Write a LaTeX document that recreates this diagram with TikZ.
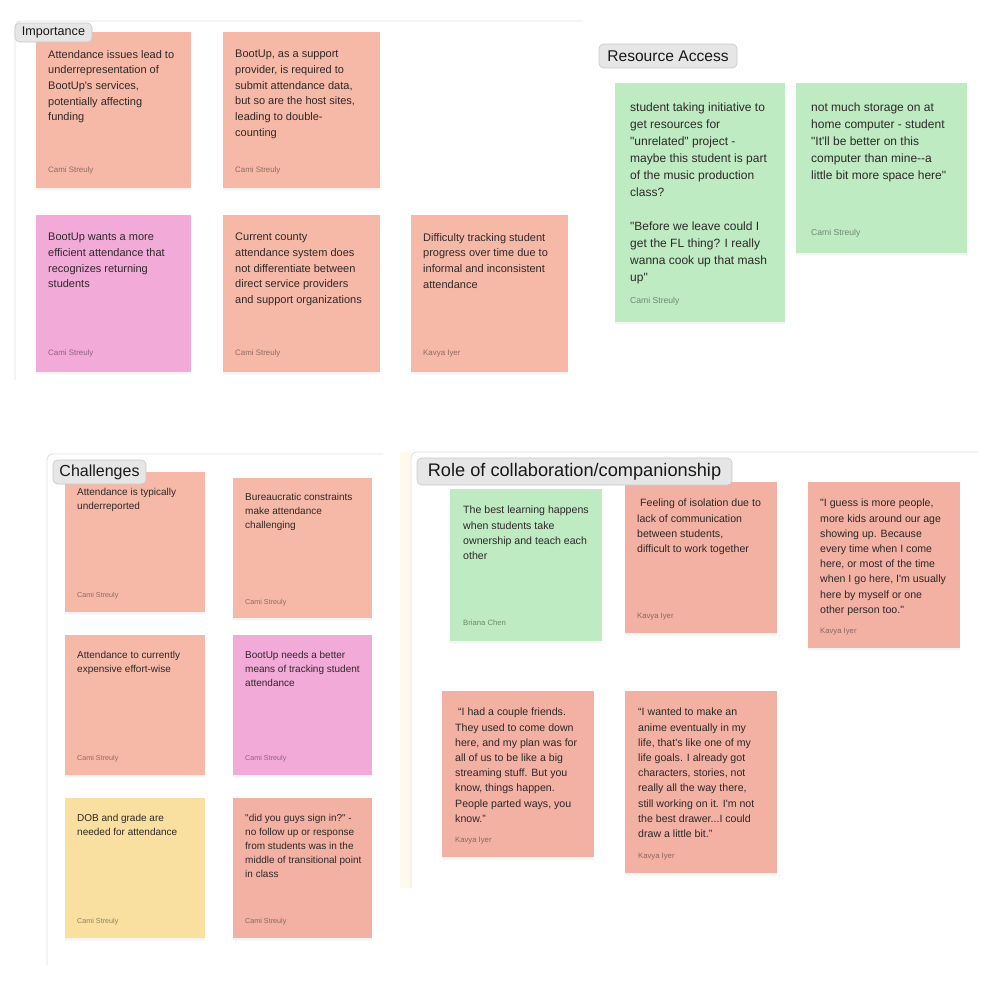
\documentclass[tikz,border=0pt]{standalone}
\usepackage{fontspec}
\newfontfamily\notefont{Liberation Sans}
\usetikzlibrary{shadows}

\definecolor{salmon}{HTML}{F6B9A8}
\definecolor{salmondeep}{HTML}{F2B1A3}
\definecolor{bubblegum}{HTML}{F2ABD8}
\definecolor{mint}{HTML}{BEEBC2}
\definecolor{butter}{HTML}{F9E0A0}
\definecolor{tagfill}{HTML}{E6E6E6}
\definecolor{tagline}{HTML}{C8C8C8}
\definecolor{framegray}{HTML}{E0E0E0}
\definecolor{cream}{HTML}{FFFAEC}
\definecolor{ink}{HTML}{2E2828}

\tikzset{
  board/.style={draw=framegray, line width=0.9pt, rounded corners=6pt},
  tag/.style={draw=tagline, fill=tagfill, rounded corners=4.5pt, inner sep=0pt, line width=0.6pt, text=black!90},
  sticky/.style={anchor=north west, inner sep=0pt,
    drop shadow={shadow xshift=0pt, shadow yshift=-1.5pt, opacity=0.05},
    drop shadow={shadow xshift=0pt, shadow yshift=-3pt, opacity=0.04}},
  body/.style={anchor=north west, inner sep=0pt, align=left, text=ink},
  sig/.style={anchor=mid west, inner sep=0pt, text=black, text opacity=0.42},
  impbody/.style={body, font=\notefont\fontsize{11}{15.7}\selectfont},
  impsig/.style={sig, font=\notefont\fontsize{7.9}{9}\selectfont},
  resbody/.style={body, font=\notefont\fontsize{12}{17}\selectfont},
  ressig/.style={sig, font=\notefont\fontsize{8.6}{10}\selectfont},
  chalbody/.style={body, font=\notefont\fontsize{10}{14}\selectfont},
  chalsig/.style={sig, font=\notefont\fontsize{7.2}{8}\selectfont},
  rolebody/.style={body, font=\notefont\fontsize{10.6}{15.2}\selectfont},
  rolesig/.style={sig, font=\notefont\fontsize{7.7}{9}\selectfont},
}

\begin{document}
\begin{tikzpicture}[x=1pt, y=-1pt]
  \useasboundingbox (0,0) rectangle (992,996);

  %% section frames
  \fill[cream] (400,452) rectangle (411,888);
  \draw[board] (15,380) -- (15,21) -- (583,21);
  \draw[board] (47,965) -- (47,454) -- (383,454);
  \draw[board] (411,888) -- (411,452) -- (978,452);

  %% Importance
  \node[sticky, fill=salmon, minimum width=155pt, minimum height=156pt] (impA) at (36,32) {};
  \node[impbody] at ([shift={(12,18)}]impA.north west)
    {Attendance issues lead to\\underrepresentation of\\BootUp's services,\\potentially affecting\\funding};
  \node[impsig] at ([shift={(12,-18)}]impA.south west) {Cami Streuly};

  \node[sticky, fill=salmon, minimum width=157pt, minimum height=156pt] (impB) at (223,32) {};
  \node[impbody] at ([shift={(12,18)}]impB.north west)
    {BootUp, as a support\\provider, is required to\\submit attendance data,\\but so are the host sites,\\leading to double-\\counting};
  \node[impsig] at ([shift={(12,-18)}]impB.south west) {Cami Streuly};

  \node[sticky, fill=bubblegum, minimum width=155pt, minimum height=157pt] (impC) at (36,215) {};
  \node[impbody] at ([shift={(12,18)}]impC.north west)
    {BootUp wants a more\\efficient attendance that\\recognizes returning\\students};
  \node[impsig] at ([shift={(12,-19)}]impC.south west) {Cami Streuly};

  \node[sticky, fill=salmon, minimum width=157pt, minimum height=157pt] (impD) at (223,215) {};
  \node[impbody] at ([shift={(12,18)}]impD.north west)
    {Current county\\attendance system does\\not differentiate between\\direct service providers\\and support organizations};
  \node[impsig] at ([shift={(12,-19)}]impD.south west) {Cami Streuly};

  \node[sticky, fill=salmon, minimum width=157pt, minimum height=157pt] (impE) at (411,215) {};
  \node[impbody] at ([shift={(12,18)}]impE.north west)
    {Difficulty tracking student\\progress over time due to\\informal and inconsistent\\attendance};
  \node[impsig] at ([shift={(12,-19)}]impE.south west) {Kavya Iyer};

  %% Resource Access
  \node[sticky, fill=mint, minimum width=170pt, minimum height=239pt] (resA) at (615,83) {};
  \node[resbody] at ([shift={(15,19.5)}]resA.north west)
    {student taking initiative to\\get resources for\\"unrelated" project -\\maybe this student is part\\of the music production\\class?\\[17pt]"Before we leave could I\\get the FL thing? I really\\wanna cook up that mash\\up"};
  \node[ressig] at ([shift={(15,-21)}]resA.south west) {Cami Streuly};

  \node[sticky, fill=mint, minimum width=171pt, minimum height=170pt] (resB) at (796,83) {};
  \node[resbody] at ([shift={(15,19.5)}]resB.north west)
    {not much storage on at\\home computer - student\\"It'll be better on this\\computer than mine--a\\little bit more space here"};
  \node[ressig] at ([shift={(15,-20)}]resB.south west) {Cami Streuly};

  %% Challenges
  \node[sticky, fill=salmon, minimum width=140pt, minimum height=140pt] (chalA) at (65,472) {};
  \node[chalbody] at ([shift={(12,16.3)}]chalA.north west)
    {Attendance is typically\\underreported};
  \node[chalsig] at ([shift={(12,-17)}]chalA.south west) {Cami Streuly};

  \node[sticky, fill=salmon, minimum width=139pt, minimum height=140pt] (chalB) at (233,478) {};
  \node[chalbody] at ([shift={(12,15.5)}]chalB.north west)
    {Bureaucratic constraints\\make attendance\\challenging};
  \node[chalsig] at ([shift={(12,-16)}]chalB.south west) {Cami Streuly};

  \node[sticky, fill=salmon, minimum width=140pt, minimum height=140pt] (chalC) at (65,635) {};
  \node[chalbody] at ([shift={(12,16.3)}]chalC.north west)
    {Attendance to currently\\expensive effort-wise};
  \node[chalsig] at ([shift={(12,-17)}]chalC.south west) {Cami Streuly};

  \node[sticky, fill=bubblegum, minimum width=139pt, minimum height=140pt] (chalD) at (233,635) {};
  \node[chalbody] at ([shift={(12,16.3)}]chalD.north west)
    {BootUp needs a better\\means of tracking student\\attendance};
  \node[chalsig] at ([shift={(12,-17)}]chalD.south west) {Cami Streuly};

  \node[sticky, fill=butter, minimum width=140pt, minimum height=140pt] (chalE) at (65,798) {};
  \node[chalbody] at ([shift={(12,16.3)}]chalE.north west)
    {DOB and grade are\\needed for attendance};
  \node[chalsig] at ([shift={(12,-17)}]chalE.south west) {Cami Streuly};

  \node[sticky, fill=salmondeep, minimum width=139pt, minimum height=140pt] (chalF) at (233,798) {};
  \node[chalbody] at ([shift={(12,16.3)}]chalF.north west)
    {"did you guys sign in?" -\\no follow up or response\\from students was in the\\middle of transitional point\\in class};
  \node[chalsig] at ([shift={(12,-17)}]chalF.south west) {Cami Streuly};

  %% Role of collaboration/companionship
  \node[sticky, fill=mint, minimum width=152pt, minimum height=152pt] (roleA) at (450,489) {};
  \node[rolebody] at ([shift={(13,17)}]roleA.north west)
    {The best learning happens\\when students take\\ownership and teach each\\other};
  \node[rolesig] at ([shift={(13,-18)}]roleA.south west) {Briana Chen};

  \node[sticky, fill=salmondeep, minimum width=152pt, minimum height=151pt] (roleB) at (625,482) {};
  \node[rolebody] at ([shift={(12,17)}]roleB.north west)
    {\ Feeling of isolation due to\\lack of communication\\between students,\\difficult to work together};
  \node[rolesig] at ([shift={(12,-17)}]roleB.south west) {Kavya Iyer};

  \node[sticky, fill=salmondeep, minimum width=152pt, minimum height=166pt] (roleC) at (808,482) {};
  \node[rolebody] at ([shift={(12,17)}]roleC.north west)
    {"I guess is more people,\\more kids around our age\\showing up. Because\\every time when I come\\here, or most of the time\\when I go here, I'm usually\\here by myself or one\\other person too."};
  \node[rolesig] at ([shift={(12,-17)}]roleC.south west) {Kavya Iyer};

  \node[sticky, fill=salmondeep, minimum width=152pt, minimum height=166pt] (roleD) at (442,691) {};
  \node[rolebody] at ([shift={(13,17)}]roleD.north west)
    {\ “I had a couple friends.\\They used to come down\\here, and my plan was for\\all of us to be like a big\\streaming stuff. But you\\know, things happen.\\People parted ways, you\\know.”};
  \node[rolesig] at ([shift={(13,-17)}]roleD.south west) {Kavya Iyer};

  \node[sticky, fill=salmondeep, minimum width=152pt, minimum height=182pt] (roleE) at (625,691) {};
  \node[rolebody] at ([shift={(13,17)}]roleE.north west)
    {“I wanted to make an\\anime eventually in my\\life, that's like one of my\\life goals. I already got\\characters, stories, not\\really all the way there,\\still working on it. I'm not\\the best drawer...I could\\draw a little bit.”};
  \node[rolesig] at ([shift={(13,-17)}]roleE.south west) {Kavya Iyer};

  %% section tags
  \node[tag, minimum width=77pt, minimum height=19pt, font=\notefont\fontsize{12.6}{14}\selectfont] (tagImp) at (53.5,32.5) {Importance};
  \node[tag, minimum width=138pt, minimum height=24pt, font=\notefont\fontsize{15.6}{18}\selectfont] (tagRes) at (668,56) {Resource Access};
  \node[tag, minimum width=93pt, minimum height=24pt, font=\notefont\fontsize{16}{18}\selectfont] (tagChal) at (99.5,472) {Challenges};
  \node[tag, minimum width=315pt, minimum height=27pt, font=\notefont\fontsize{18.2}{20}\selectfont] (tagRole) at (574.5,471.5) {Role of collaboration/companionship};
\end{tikzpicture}
\end{document}
